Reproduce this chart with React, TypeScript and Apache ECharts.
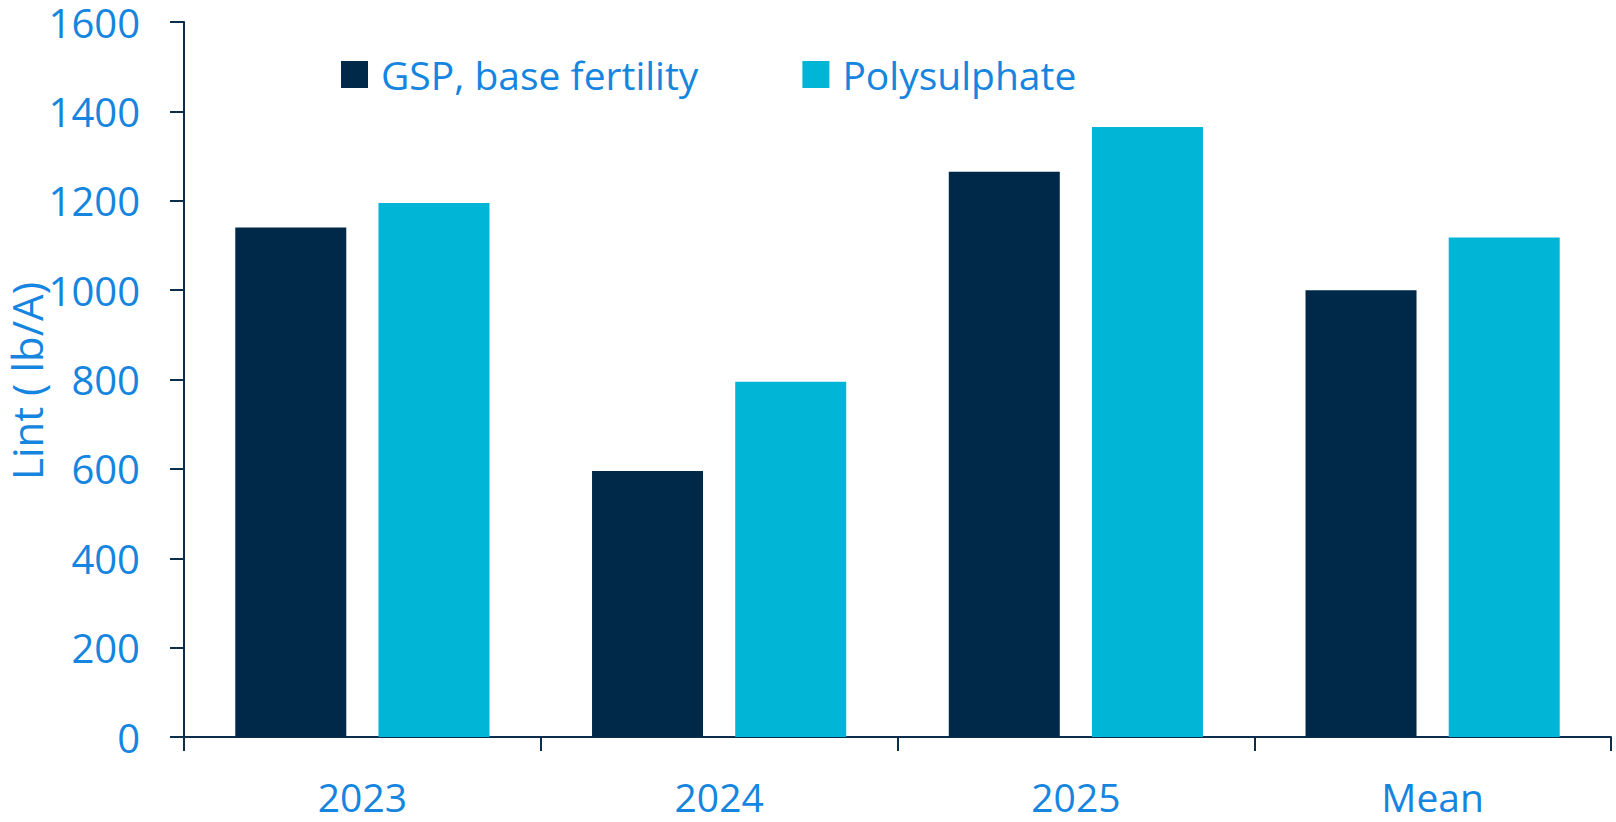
import React, { useEffect, useRef } from "react";
import * as echarts from "echarts";

const categories = ["2023", "2024", "2025", "Mean"];
const seriesNames = ["GSP, base fertility", "Polysulphate"];
const gspValues = [1140, 595, 1265, 1000];
const polyValues = [1195, 795, 1365, 1118];
const yAxisTitle = "Lint ( lb/A)";
const yMin = 0;
const yMax = 1600;
const yInterval = 200;

const NAVY = "#002848";
const CYAN = "#00B5D5";
const TEXT = "#1585E0";
const AXIS = "#0C2D4C";
const FONT = "'Open Sans', 'Noto Sans', sans-serif";

export default function App() {
  const ref = useRef<HTMLDivElement>(null);
  useEffect(() => {
    if (!ref.current) return;
    const chart = echarts.init(ref.current, null, { renderer: "svg" });
    chart.setOption({
      animation: false,
      backgroundColor: "#ffffff",
      textStyle: { fontFamily: FONT },
      grid: { left: 184, right: 5, top: 22, bottom: 85, containLabel: false, outerBoundsMode: "none" },
      legend: {
        data: seriesNames,
        left: 336,
        top: 50,
        itemWidth: 27,
        itemHeight: 27,
        itemGap: 104,
        icon: "rect",
        textStyle: { color: TEXT, fontSize: 39, fontFamily: FONT, padding: [0, 0, 0, 8] },
      },
      graphic: [
        {
          type: "text",
          x: 26,
          y: 381,
          rotation: Math.PI / 2,
          style: {
            text: yAxisTitle,
            fill: TEXT,
            fontSize: 42,
            fontFamily: FONT,
            textAlign: "center",
            textVerticalAlign: "middle",
          },
        },
      ],
      xAxis: {
        type: "category",
        data: categories,
        boundaryGap: true,
        axisLine: { show: true, lineStyle: { color: AXIS, width: 2 } },
        axisTick: { show: true, alignWithLabel: false, length: 14, lineStyle: { color: AXIS, width: 2 } },
        axisLabel: { color: TEXT, fontSize: 39, margin: 40, fontFamily: FONT },
      },
      yAxis: {
        type: "value",
        min: yMin,
        max: yMax,
        interval: yInterval,
        axisLine: { show: true, lineStyle: { color: AXIS, width: 2 } },
        axisTick: { show: true, inside: false, length: 14, lineStyle: { color: AXIS, width: 2 } },
        axisLabel: {
          color: TEXT,
          fontSize: 40,
          lineHeight: 32,
          margin: 44,
          fontFamily: FONT,
          formatter: (v: number) => String(v),
        },
        splitLine: { show: false },
      },
      series: [
        {
          name: seriesNames[0],
          type: "bar",
          data: gspValues,
          barWidth: 111,
          barGap: "29%",
          itemStyle: { color: NAVY },
        },
        {
          name: seriesNames[1],
          type: "bar",
          data: polyValues,
          barWidth: 111,
          barGap: "29%",
          itemStyle: { color: CYAN },
        },
      ],
    });
    return () => chart.dispose();
  }, []);
  return (
    <div
      ref={ref}
      style={{ position: "fixed", left: 0, top: 0, width: 1616, height: 822, background: "#fff" }}
    />
  );
}
